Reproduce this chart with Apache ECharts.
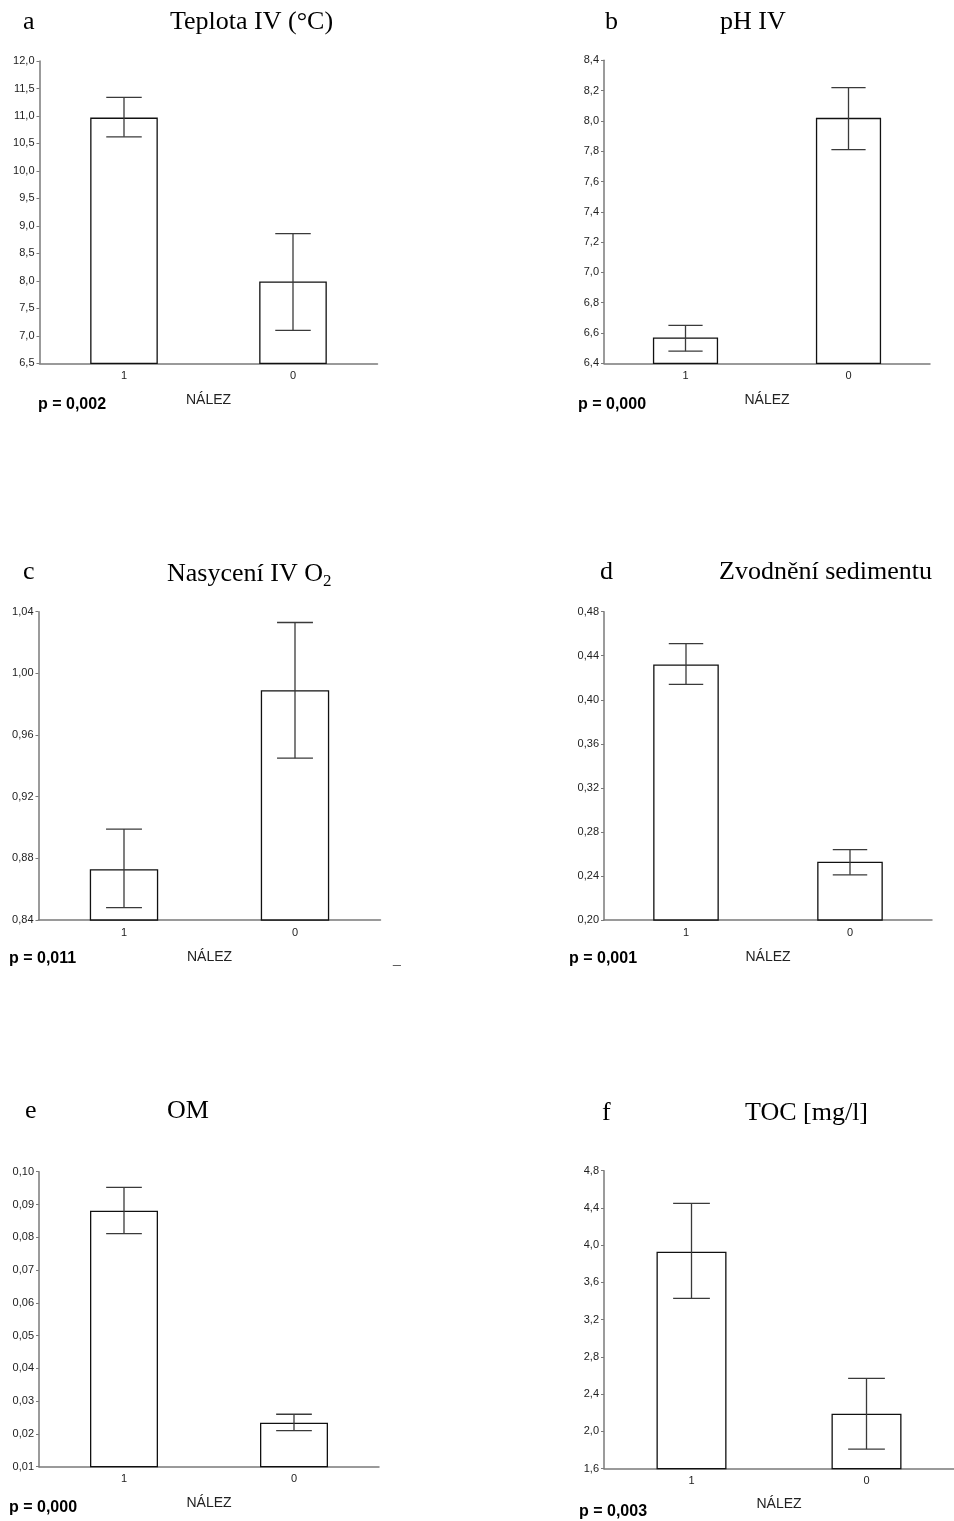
<!DOCTYPE html>
<html>
<head>
<meta charset="utf-8">
<title>NÁLEZ</title>
<script src="https://cdn.jsdelivr.net/npm/echarts@6/dist/echarts.min.js"></script>
<style>
  html, body { margin: 0; padding: 0; background: #fff; }
  #chart { width: 954px; height: 1521px; }
</style>
</head>
<body>
<div id="chart"></div>
<script>
var myChart = echarts.init(document.getElementById('chart'));

// groups on the x axis (NÁLEZ)
var categories = ['1', '0'];

// a - Teplota IV (°C)
var tempMean = [10.97, 7.99];
var tempLow = [10.62, 7.10];
var tempHigh = [11.34, 8.86];
var tempTicks = [6.5, 12.0, 0.5];

// b - pH IV
var phMean = [6.57, 8.02];
var phLow = [6.48, 7.81];
var phHigh = [6.65, 8.22];
var phTicks = [6.4, 8.4, 0.2];

// c - Nasycení IV O2
var o2Mean = [0.873, 0.989];
var o2Low = [0.848, 0.945];
var o2High = [0.899, 1.033];
var o2Ticks = [0.84, 1.04, 0.04];

// d - Zvodnění sedimentu
var waterMean = [0.432, 0.253];
var waterLow = [0.414, 0.241];
var waterHigh = [0.451, 0.264];
var waterTicks = [0.20, 0.48, 0.04];

// e - OM
var omMean = [0.0881, 0.0234];
var omLow = [0.0811, 0.0210];
var omHigh = [0.0952, 0.0260];
var omTicks = [0.01, 0.10, 0.01];

// f - TOC [mg/l]
var tocMean = [3.93, 2.19];
var tocLow = [3.43, 1.81];
var tocHigh = [4.45, 2.57];
var tocTicks = [1.6, 4.8, 0.4];

var pValues = ['p = 0,002', 'p = 0,000', 'p = 0,011', 'p = 0,001', 'p = 0,000', 'p = 0,003'];

var panels = [
  { mean: tempMean, low: tempLow, high: tempHigh, ticks: tempTicks, dec: 1,
    grid: { left: 39.5, top: 61, width: 338, height: 302.3 }, nameGap: 30 },
  { mean: phMean, low: phLow, high: phHigh, ticks: phTicks, dec: 1,
    grid: { left: 604, top: 60.3, width: 326, height: 303 }, nameGap: 30 },
  { mean: o2Mean, low: o2Low, high: o2High, ticks: o2Ticks, dec: 2,
    grid: { left: 38.5, top: 611.7, width: 342, height: 308.3 }, nameGap: 30 },
  { mean: waterMean, low: waterLow, high: waterHigh, ticks: waterTicks, dec: 2,
    grid: { left: 604, top: 611.7, width: 328, height: 308.3 }, nameGap: 30 },
  { mean: omMean, low: omLow, high: omHigh, ticks: omTicks, dec: 2,
    grid: { left: 39, top: 1171.7, width: 340, height: 295 }, nameGap: 29 },
  { mean: tocMean, low: tocLow, high: tocHigh, ticks: tocTicks, dec: 1,
    grid: { left: 604, top: 1170.7, width: 352.5, height: 298 }, nameGap: 28 }
];

var axisGrey = '#7a7a7a';
var labelColor = '#222';
var sansFont = '"Liberation Sans", Arial, sans-serif';
var serifFont = '"Liberation Serif", "Times New Roman", serif';

function errorBars(params, api) {
  var x = api.value(0);
  var top = api.coord([x, api.value(2)]);
  var bottom = api.coord([x, api.value(1)]);
  var half = api.size([1, 0])[0] * 0.105;
  var style = { stroke: '#3a3a3a', lineWidth: 1.3 };
  return {
    type: 'group',
    children: [
      { type: 'line', shape: { x1: top[0], y1: top[1], x2: bottom[0], y2: bottom[1] }, style: style },
      { type: 'line', shape: { x1: top[0] - half, y1: top[1], x2: top[0] + half, y2: top[1] }, style: style },
      { type: 'line', shape: { x1: bottom[0] - half, y1: bottom[1], x2: bottom[0] + half, y2: bottom[1] }, style: style }
    ]
  };
}

var grids = [], xAxes = [], yAxes = [], series = [];

panels.forEach(function (p, i) {
  grids.push(p.grid);
  xAxes.push({
    type: 'category',
    gridIndex: i,
    data: categories,
    name: 'NÁLEZ',
    nameLocation: 'middle',
    nameGap: p.nameGap,
    nameTextStyle: { fontFamily: sansFont, fontSize: 14, color: labelColor },
    axisLine: { show: true, lineStyle: { color: axisGrey, width: 1.5 } },
    axisTick: { show: true, inside: true, length: 3, alignWithLabel: true, lineStyle: { color: axisGrey } },
    axisLabel: { margin: 7, fontFamily: sansFont, fontSize: 11, color: labelColor },
    splitLine: { show: false }
  });
  yAxes.push({
    type: 'value',
    gridIndex: i,
    min: p.ticks[0],
    max: p.ticks[1],
    interval: p.ticks[2],
    axisLine: { show: true, lineStyle: { color: axisGrey, width: 1.5 } },
    axisTick: { show: true, length: 3, lineStyle: { color: axisGrey } },
    axisLabel: {
      margin: 5,
      fontFamily: sansFont,
      fontSize: 11,
      color: labelColor,
      formatter: function (v) { return v.toFixed(p.dec).replace('.', ','); }
    },
    splitLine: { show: false }
  });
  series.push({
    type: 'bar',
    xAxisIndex: i,
    yAxisIndex: i,
    data: p.mean,
    barWidth: '40%',
    itemStyle: { color: '#fff', borderColor: '#111', borderWidth: 1.3 },
    silent: true
  });
  series.push({
    type: 'custom',
    xAxisIndex: i,
    yAxisIndex: i,
    renderItem: errorBars,
    encode: { x: 0, y: [1, 2] },
    data: categories.map(function (c, k) { return [k, p.low[k], p.high[k]]; }),
    z: 5,
    silent: true
  });
});

var letterStyle = { fontFamily: serifFont, fontSize: 26, fontWeight: 'normal', color: '#000' };
var headStyle = {
  fontFamily: serifFont, fontSize: 26, fontWeight: 'normal', color: '#000',
  rich: {
    t: { fontFamily: serifFont, fontSize: 26, color: '#000' },
    s: { fontFamily: serifFont, fontSize: 17, color: '#000', padding: [14, 0, 0, 0] }
  }
};
var pStyle = { fontFamily: sansFont, fontSize: 16, fontWeight: 'bold', color: '#000' };

var titles = [
  { text: 'a', left: 23, top: 9, textStyle: letterStyle },
  { text: 'Teplota IV (°C)', left: 170, top: 9, textStyle: headStyle },
  { text: 'b', left: 605, top: 9, textStyle: letterStyle },
  { text: 'pH IV', left: 720, top: 9, textStyle: headStyle },
  { text: 'c', left: 23, top: 559, textStyle: letterStyle },
  { text: '{t|Nasycení IV O}{s|2}', left: 167, top: 559, textStyle: headStyle },
  { text: 'd', left: 600, top: 559, textStyle: letterStyle },
  { text: 'Zvodnění sedimentu', left: 719, top: 559, textStyle: headStyle },
  { text: 'e', left: 25, top: 1098, textStyle: letterStyle },
  { text: 'OM', left: 167, top: 1098, textStyle: headStyle },
  { text: 'f', left: 602, top: 1100, textStyle: letterStyle },
  { text: 'TOC [mg/l]', left: 745, top: 1100, textStyle: headStyle },
  { text: pValues[0], left: 38, top: 397, textStyle: pStyle },
  { text: pValues[1], left: 578, top: 397, textStyle: pStyle },
  { text: pValues[2], left: 9, top: 951, textStyle: pStyle },
  { text: pValues[3], left: 569, top: 951, textStyle: pStyle },
  { text: pValues[4], left: 9, top: 1500, textStyle: pStyle },
  { text: pValues[5], left: 579, top: 1504, textStyle: pStyle },
  { text: '_', left: 393, top: 952, textStyle: { fontFamily: sansFont, fontSize: 14, fontWeight: 'normal', color: '#555' } }
];
titles.forEach(function (t) { t.padding = 0; });

var option = {
  backgroundColor: '#fff',
  animation: false,
  title: titles,
  grid: grids,
  xAxis: xAxes,
  yAxis: yAxes,
  series: series
};

if (option && typeof option === 'object') {
  myChart.setOption(option);
}

window.addEventListener('resize', myChart.resize);
</script>
</body>
</html>
